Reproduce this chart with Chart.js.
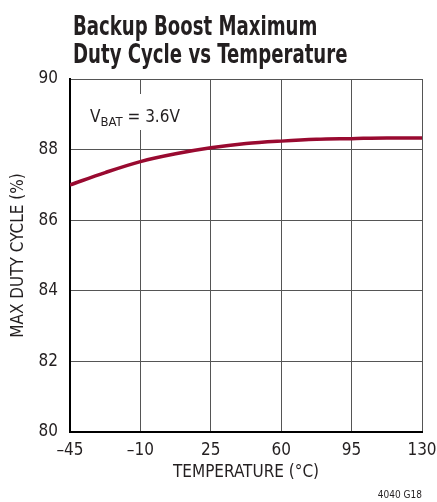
<!DOCTYPE html>
<html>
<head>
<meta charset="utf-8">
<script src="https://cdn.jsdelivr.net/npm/chart.js@4/dist/chart.umd.min.js"></script>
<style>
html,body{margin:0;padding:0;background:#fff}
#wrap{width:437px;height:502px;position:relative}
</style>
</head>
<body>
<div id="wrap"><canvas id="c" width="437" height="502"></canvas></div>
<script>
// DATA
const temps=[-45,-27.5,-10,7.5,25,42.5,60,77.5,95,112.5,130];
const dutyMax=[87.0,87.35,87.66,87.88,88.05,88.17,88.24,88.29,88.31,88.33,88.33];
const xTicks=[-45,-10,25,60,95,130];
const yTicks=[80,82,84,86,88,90];
const titleLines=['Backup Boost Maximum','Duty Cycle vs Temperature'];

const FONT='"Liberation Sans Narrow","DejaVu Sans Condensed","Liberation Sans",sans-serif';
const RED='#990a30';

// extra text: title, V_BAT label, figure code
const extras={
  id:'extras',
  beforeDatasetsDraw(chart){
    const ctx=chart.ctx;
    // white box behind label, breaks the -10 grid line
    ctx.save();
    ctx.fillStyle='#fff';
    ctx.fillRect(86,94,96,36);
    ctx.restore();
  },
  afterDraw(chart){
    const ctx=chart.ctx;
    ctx.save();
    ctx.fillStyle='#231f20';
    ctx.textBaseline='alphabetic';
    // title, squeezed to look like a condensed face
    ctx.save();
    ctx.translate(73,0);
    ctx.scale(0.775,1);
    ctx.font='bold 26px '+FONT;
    ctx.fillText(titleLines[0],0,35);
    ctx.fillText(titleLines[1],0,63);
    ctx.restore();
    // V_BAT = 3.6V
    ctx.font='17px '+FONT;
    ctx.fillText('V',90,122);
    let w=ctx.measureText('V').width;
    ctx.font='13px '+FONT;
    ctx.fillText('BAT',90+w,126);
    let w2=ctx.measureText('BAT').width;
    ctx.font='17px '+FONT;
    ctx.fillText(' = 3.6V',90+w+w2,122);
    // figure code
    ctx.font='10px '+FONT;
    ctx.textAlign='right';
    ctx.fillText('4040 G18',422,498);
    ctx.restore();
  }
};

new Chart(document.getElementById('c'),{
  type:'line',
  data:{datasets:[{
    data:temps.map((t,i)=>({x:t,y:dutyMax[i]})),
    borderColor:RED,borderWidth:3.5,pointRadius:0,
    cubicInterpolationMode:'monotone',fill:false
  }]},
  options:{
    responsive:false,animation:false,
    layout:{padding:{top:79,right:15,left:0,bottom:19}},
    plugins:{legend:{display:false},tooltip:{enabled:false},title:{display:false}},
    scales:{
      x:{
        type:'linear',min:-45,max:130,
        afterBuildTicks(s){s.ticks=xTicks.map(v=>({value:v}))},
        afterFit(s){s.height=51;s.paddingLeft=0;s.paddingRight=0},
        grid:{color:'#555',lineWidth:1,drawTicks:false},
        border:{color:'#000',width:2},
        ticks:{padding:8,color:'#231f20',font:{family:FONT,size:17},
          callback:v=>v<0?'\u2013'+Math.abs(v):String(v)},
        title:{display:true,text:'TEMPERATURE (°C)',color:'#231f20',
          font:{family:FONT,size:17},padding:{top:4,bottom:0}}
      },
      y:{
        min:80,max:90,
        afterBuildTicks(s){s.ticks=yTicks.map(v=>({value:v}))},
        afterFit(s){s.width=70;s.paddingTop=0;s.paddingBottom=0},
        grid:{color:'#555',lineWidth:1,drawTicks:false},
        border:{color:'#000',width:2},
        ticks:{padding:12,color:'#231f20',font:{family:FONT,size:17}},
        title:{display:true,text:'MAX DUTY CYCLE (%)',color:'#231f20',
          font:{family:FONT,size:17},padding:{top:8,bottom:0}}
      }
    }
  },
  plugins:[extras]
});
</script>
</body>
</html>
